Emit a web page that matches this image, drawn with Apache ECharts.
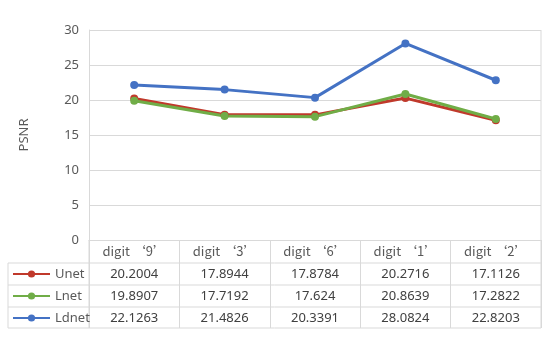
<!DOCTYPE html>
<html><head><meta charset="utf-8">
<script src="https://cdn.jsdelivr.net/npm/echarts@6/dist/echarts.min.js"></script>
<style>html,body{margin:0;padding:0;background:#fff}#c{width:550px;height:338px}</style>
</head><body><div id="c"></div>
<script>
var categories = ["digit ‘9’", "digit ‘3’", "digit ‘6’", "digit ‘1’", "digit ‘2’"];
var unet = [20.2004, 17.8944, 17.8784, 20.2716, 17.1126];
var lnet = [19.8907, 17.7192, 17.624, 20.8639, 17.2822];
var ldnet = [22.1263, 21.4826, 20.3391, 28.0824, 22.8203];
var yTicks = [0, 5, 10, 15, 20, 25, 30];

var FONT = "Noto Sans";
var CJK = "Noto Sans CJK SC";
var GRID = '#d9d9d9';
var TXT = '#595959';
var names = ['Unet', 'Lnet', 'Ldnet'];
var colors = ['#C0392B', '#70AD47', '#4472C4'];
var rows = [unet, lnet, ldnet];

function rowAxis(vals, off) {
  return {
    type: 'category', data: vals.map(String), position: 'bottom', offset: off, gridIndex: 0,
    axisLine: {show: false}, axisTick: {show: false},
    axisLabel: {interval: 0, margin: 6, fontFamily: FONT, fontSize: 13, color: '#404040'}
  };
}

var chart = echarts.init(document.getElementById('c'), null, {renderer: 'canvas'});
var L = 89, R = 541, T = 30, B = 240;
var hl = function(x1, y1, x2, y2) {
  return {type: 'line', shape: {x1: x1, y1: y1, x2: x2, y2: y2}, style: {stroke: GRID, lineWidth: 1}, silent: true};
};
chart.setOption({
  animation: false,
  textStyle: {fontFamily: FONT},
  grid: {left: L, right: 550 - R, top: T, bottom: 338 - B},
  xAxis: [
    {
      type: 'category', data: categories, boundaryGap: true,
      axisLine: {show: true, lineStyle: {color: GRID}},
      axisTick: {show: true, interval: 0, length: 88, lineStyle: {color: GRID}},
      axisLabel: {interval: 0, margin: 5, fontFamily: CJK, fontSize: 13, color: TXT},
      splitLine: {show: false}
    },
    rowAxis(unet, 22), rowAxis(lnet, 44), rowAxis(ldnet, 66)
  ],
  yAxis: {
    type: 'value', min: yTicks[0], max: yTicks[yTicks.length - 1], interval: 5,
    name: 'PSNR', nameLocation: 'middle', nameGap: 58, nameRotate: 90,
    nameTextStyle: {fontFamily: FONT, fontSize: 13, color: TXT},
    axisLine: {show: true, lineStyle: {color: GRID}},
    axisTick: {show: false},
    axisLabel: {margin: 10, fontFamily: FONT, fontSize: 13, color: TXT},
    splitLine: {show: true, lineStyle: {color: GRID, width: 1}}
  },
  legend: {
    orient: 'vertical', left: 12, top: 267, padding: 0, itemWidth: 37, itemHeight: 9, itemGap: 8,
    textStyle: {fontFamily: FONT, fontSize: 13, color: TXT, lineHeight: 14},
    data: names
  },
  graphic: [
    hl(R, T, R, 328),
    hl(8, 263, R, 263), hl(8, 285, R, 285), hl(8, 307, R, 307), hl(8, 328, R, 328),
    hl(8, 263, 8, 328), hl(L, 240, L, 328)
  ],
  series: names.map(function(n, i) {
    return {
      name: n, type: 'line', data: rows[i], xAxisIndex: 0,
      symbol: 'circle', symbolSize: 8,
      lineStyle: {width: 3, color: colors[i]},
      itemStyle: {color: colors[i]}
    };
  })
});
</script></body></html>
